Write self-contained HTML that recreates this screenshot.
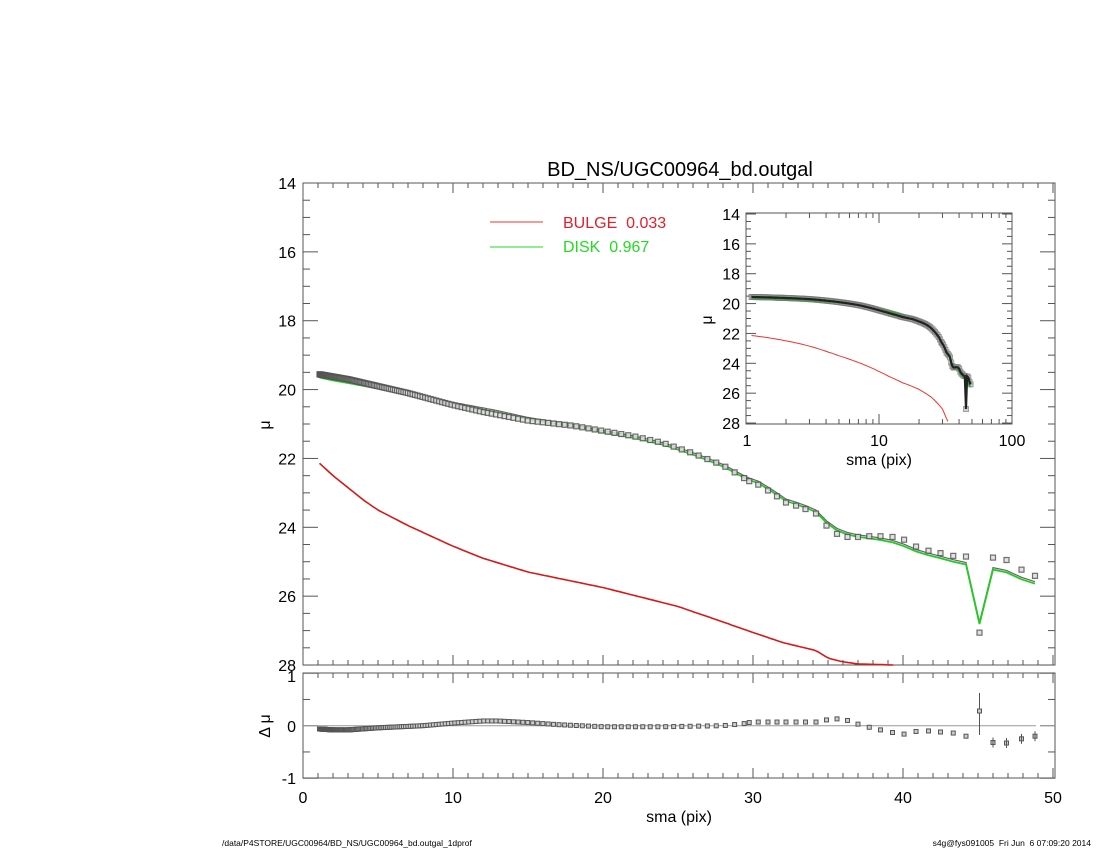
<!DOCTYPE html>
<html><head><meta charset="utf-8"><style>
html,body{margin:0;padding:0;background:#fff;width:1100px;height:850px;overflow:hidden}
svg text{font-family:"Liberation Sans",sans-serif;white-space:pre}
</style></head><body>
<svg id="s" width="1100" height="850" xmlns="http://www.w3.org/2000/svg"></svg>
<script>
const S=document.getElementById('s');let h='';
const X=x=>303+x*15, Y=m=>183+(m-14)*34.43, R=r=>725.7-r*52.5;
function lin(k,x){if(x<=k[0][0])return k[0][1];for(let i=1;i<k.length;i++){if(x<=k[i][0]){const a=k[i-1],b=k[i];return a[1]+(b[1]-a[1])*(x-a[0])/(b[0]-a[0]);}}return k[k.length-1][1];}
const dk=[[1,19.55],[3,19.7],[5,19.9],[7,20.1],[10,20.45],[12,20.65],[15,20.9],[18,21.05],[20,21.2],[22,21.35],[24,21.55],[26,21.85],[28,22.2],[29.75,22.66]];
const rk=[[1,-0.06],[2,-0.08],[3,-0.08],[5,-0.04],[8,0],[10,0.05],[12,0.09],[13,0.09],[15,0.06],[17,0.02],[20,-0.02],[24,-0.02],[28,0.0],[29.75,0.05]];
const late=[[29.75,22.66,0.06],[30.35,22.76,0.07],[31.0,22.93,0.07],[31.6,23.1,0.07],[32.2,23.28,0.07],[32.87,23.37,0.07],[33.5,23.47,0.07],[34.2,23.6,0.07],[34.9,23.95,0.11],[35.6,24.19,0.13],[36.3,24.28,0.1],[37.0,24.28,0.03],[37.75,24.26,-0.03],[38.5,24.26,-0.08],[39.3,24.28,-0.13],[40.07,24.36,-0.16],[40.87,24.56,-0.11],[41.7,24.68,-0.1],[42.5,24.75,-0.12],[43.35,24.83,-0.14],[44.2,24.85,-0.2],[45.1,27.06,0.28],[46.0,24.88,-0.32],[46.9,24.95,-0.33],[47.9,25.23,-0.25],[48.8,25.41,-0.2]];
let pts=[];for(let x=1.1;x<29.5;x*=1.022)pts.push([x,lin(dk,x),lin(rk,x)]);pts=pts.concat(late);
const mdl=pts.map(p=>[p[0],p[1]-p[2]]);
function ticksX(y0,y1,dir){let s='';for(let i=0;i<=50;i++){const l=i%10==0?10:5;s+=`<line x1="${X(i)}" y1="${y0}" x2="${X(i)}" y2="${y0+dir*l}"/>`;}return s;}
h+=`<g stroke="#555" stroke-width="1" fill="none"><rect x="303" y="183" width="752" height="482"/>`;
h+=ticksX(665,0,-1)+ticksX(183,0,1);
for(let m=14;m<=28;m+=0.5){const l=(m%2==0)?15:7;h+=`<line x1="303" y1="${Y(m)}" x2="${303+l}" y2="${Y(m)}"/><line x1="1055" y1="${Y(m)}" x2="${1055-l}" y2="${Y(m)}"/>`;}
h+=`<rect x="303" y="673" width="752" height="105"/>`+ticksX(778,0,-1)+ticksX(673,0,1);
for(let r=-1;r<=1;r+=0.5){const l=(r%1==0)?15:7;h+=`<line x1="303" y1="${R(r)}" x2="${303+l}" y2="${R(r)}"/><line x1="1055" y1="${R(r)}" x2="${1055-l}" y2="${R(r)}"/>`;}
h+=`</g>`;
h+=`<line x1="303" y1="725.7" x2="1036" y2="725.7" stroke="#999"/><line x1="1040" y1="725.7" x2="1055" y2="725.7" stroke="#999"/>`;
h+=`<g font-size="16" fill="#000" text-anchor="end">`;for(let m=14;m<=28;m+=2)h+=`<text x="296" y="${Y(m)+6}">${m}</text>`;
h+=`<text x="296" y="682">1</text><text x="296" y="732">0</text><text x="296" y="784">-1</text></g>`;
h+=`<g font-size="16" text-anchor="middle">`;for(let i=0;i<=50;i+=10)h+=`<text x="${X(i)}" y="803">${i}</text>`;h+=`<text x="679" y="822">sma (pix)</text></g>`;
h+=`<text x="680" y="176" font-size="20" text-anchor="middle">BD_NS/UGC00964_bd.outgal</text>`;
h+=`<text transform="translate(270,425) rotate(-90)" font-size="16" text-anchor="middle">μ</text>`;
h+=`<text transform="translate(270,726) rotate(-90)" font-size="16" text-anchor="middle">Δ μ</text>`;
h+=`<line x1="490" y1="222" x2="543" y2="222" stroke="#e33"/><line x1="490" y1="247" x2="543" y2="247" stroke="#2d2"/>`;
h+=`<text x="563" y="228" font-size="16" fill="#e0202a">BULGE  0.033</text><text x="563" y="252" font-size="16" fill="#20dd20">DISK  0.967</text>`;
const bk=[[1,22.1],[2,22.5],[3,22.85],[4,23.2],[5,23.5],[7,23.95],[10,24.55],[12,24.9],[15,25.3],[20,25.75],[25,26.3],[28,26.75],[29.5,26.98],[32,27.35],[34.2,27.58],[35,27.8],[35.9,27.9],[37,27.97],[39.5,28.0]];
let bp=[];for(let x=1.1;x<=39.5;x+=0.25)bp.push(X(x).toFixed(1)+','+Y(lin(bk,x)).toFixed(1));
h+=`<polyline points="${bp.join(' ')}" fill="none" stroke="#d81818" stroke-width="1.6"/>`;
h+=`<polyline points="${mdl.map(p=>X(p[0]).toFixed(1)+','+(Y(p[1])-1).toFixed(1)).join(' ')}" fill="none" stroke="#666" stroke-width="1.2"/>`;
h+=`<polyline points="${mdl.map(p=>X(p[0]).toFixed(1)+','+(Y(p[1])+1).toFixed(1)).join(' ')}" fill="none" stroke="#22cc22" stroke-width="1.8"/>`;
for(const p of pts){h+=`<rect x="${X(p[0])-2.5}" y="${Y(p[1])-2.5}" width="5" height="5" fill="#ddd" stroke="#555" stroke-width="1.2" opacity="0.85"/>`;}
h+=`<line x1="${X(45.1)}" y1="693" x2="${X(45.1)}" y2="735" stroke="#555"/>`;
for(const p of pts){h+=`<rect x="${X(p[0])-2}" y="${R(p[2])-2}" width="4" height="4" fill="#ccc" stroke="#555" stroke-width="1"/>`;if(p[0]>45.5)h+=`<line x1="${X(p[0])}" y1="${R(p[2])-5}" x2="${X(p[0])}" y2="${R(p[2])+5}" stroke="#555"/>`;}
const IX=x=>746+Math.log10(x)*133, IY=m=>214+(m-14)*14.93;
h+=`<rect x="746" y="213" width="266" height="211" fill="#fff" stroke="#555"/>`;
h+=`<g stroke="#555">`;
for(let d=1;d<=100;d*=10)for(let k=1;k<10&&d*k<=100;k++){const x=IX(d*k),l=k==1?10:5;h+=`<line x1="${x}" y1="424" x2="${x}" y2="${424-l}"/><line x1="${x}" y1="213" x2="${x}" y2="${213+l}"/>`;}
for(let m=14;m<=28;m+=0.5){const l=(m%2==0)?10:5;h+=`<line x1="746" y1="${IY(m)}" x2="${746+l}" y2="${IY(m)}"/><line x1="1012" y1="${IY(m)}" x2="${1012-l}" y2="${IY(m)}"/>`;}
h+=`</g><g font-size="16" text-anchor="end">`;for(let m=14;m<=28;m+=2)h+=`<text x="740" y="${IY(m)+6}">${m}</text>`;h+=`</g>`;
h+=`<g font-size="16" text-anchor="middle"><text x="747" y="446">1</text><text x="879" y="446">10</text><text x="1012" y="446">100</text><text x="879" y="465">sma (pix)</text></g>`;
h+=`<text transform="translate(712,320) rotate(-90)" font-size="16" text-anchor="middle">μ</text>`;
let ib=[];for(let x=1.1;x<=38;x*=1.03){const m=lin(bk,x)+(x>30?(x-30)*0.15:0);if(m<=28.1)ib.push(IX(x).toFixed(1)+','+IY(Math.min(m,28.1)).toFixed(1));}
h+=`<polyline points="${ib.join(' ')}" fill="none" stroke="#e33" stroke-width="1"/>`;
for(const p of pts)h+=`<rect x="${IX(p[0])-2.5}" y="${IY(p[1])-2.5}" width="5" height="5" fill="#bbb" stroke="#777" stroke-width="1" opacity="0.7"/>`;
h+=`<polyline points="${mdl.map(p=>IX(p[0]).toFixed(1)+','+IY(p[1]).toFixed(1)).join(' ')}" fill="none" stroke="#2a2" stroke-width="1.5"/>`;
h+=`<polyline points="${pts.map(p=>IX(p[0]).toFixed(1)+','+IY(p[1]).toFixed(1)).join(' ')}" fill="none" stroke="#222" stroke-width="2.2"/>`;
h+=`<text x="222" y="846" font-size="8.5">/data/P4STORE/UGC00964/BD_NS/UGC00964_bd.outgal_1dprof</text>`;
h+=`<text x="1091" y="846" font-size="8.5" text-anchor="end">s4g@fys091005  Fri Jun  6 07:09:20 2014</text>`;
S.innerHTML=h;
</script>
</body></html>
